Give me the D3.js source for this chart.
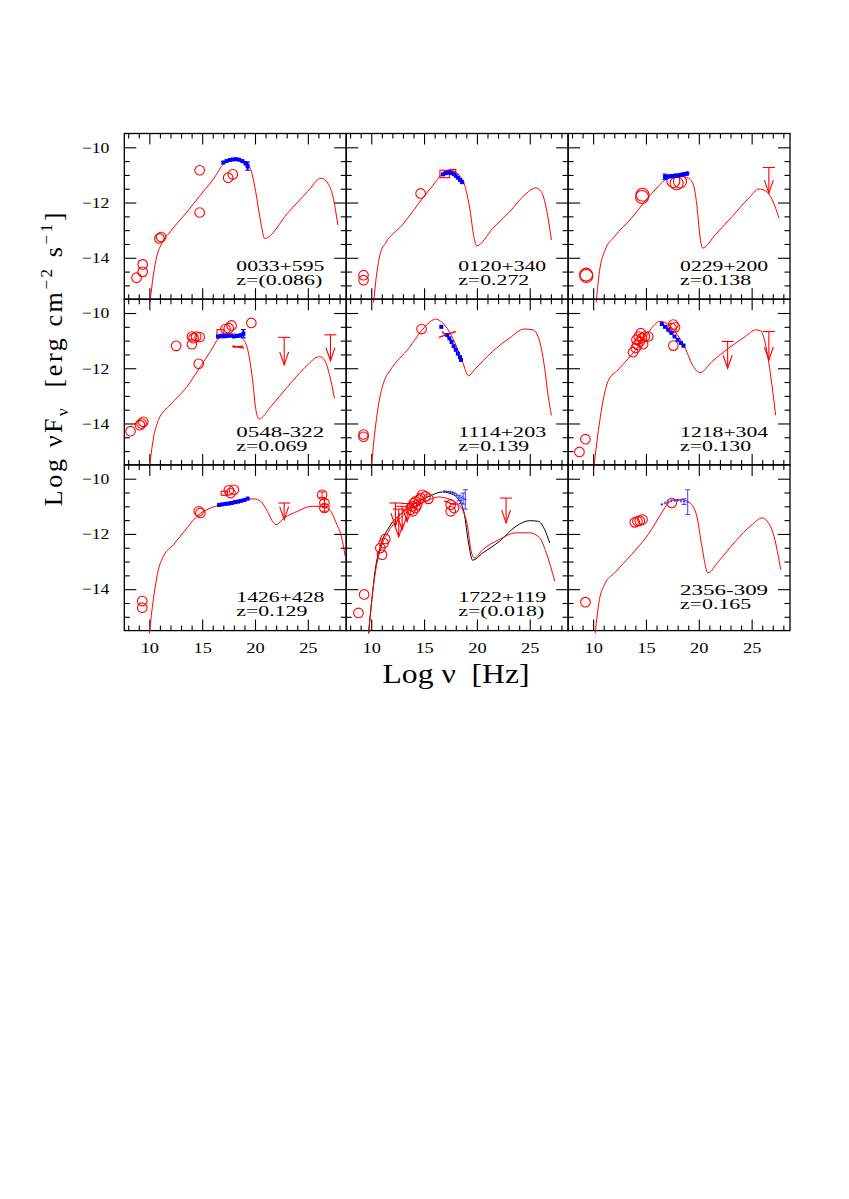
<!DOCTYPE html>
<html><head><meta charset="utf-8">
<script src="https://cdn.jsdelivr.net/npm/d3@7"></script>
<style>body{margin:0;background:#fff}svg{display:block}</style>
</head><body><svg id="c" width="849" height="1199"></svg>
<script>
// ---------------- DATA ----------------
const sourceNames = ["0033+595","0120+340","0229+200","0548-322","1114+203","1218+304","1426+428","1722+119","2356-309"];
const redshiftLabels = ["z=(0.086)","z=0.272","z=0.138","z=0.069","z=0.139","z=0.130","z=0.129","z=(0.018)","z=0.165"];
const xTickLabels = [10,15,20,25];
const yTickLabels = [-10,-12,-14];
const xMinorTicks = [8,9,11,12,13,14,16,17,18,19,21,22,23,24,26,27,28];
const yMinorTicks = [-10.5,-11,-11.5,-12.5,-13,-13.5,-14.5,-15];

// model curves [logNu, logNuFnu]
const p1Model = [[10.06,-15.62],[10.38,-14.63],[10.7,-13.96],[11.17,-13.48],[11.97,-13.06],[13.56,-12.34],[14.83,-11.73],[16.1,-11.13],[17.05,-10.59],[17.68,-10.47],[18.16,-10.41],[18.79,-10.47],[19.3,-10.6],[19.75,-11.0],[20.06,-11.6],[20.54,-12.7],[20.9,-13.3],[23.08,-12.39],[24.98,-11.6],[26.25,-11.12],[26.89,-11.3],[27.37,-11.78],[27.84,-12.81]];
const p2Model = [[10.22,-15.62],[10.54,-14.51],[10.86,-13.84],[11.33,-13.48],[12.92,-12.82],[14.83,-11.86],[16.1,-11.25],[16.73,-10.95],[17.37,-10.83],[17.84,-10.86],[18.32,-11.01],[18.79,-11.31],[19.27,-12.1],[19.75,-13.3],[19.97,-13.57],[21.49,-12.94],[23.08,-12.34],[24.67,-11.67],[25.56,-11.47],[26.1,-11.61],[26.57,-12.22],[27.05,-13.36]];
const p3Model = [[10.29,-15.62],[10.6,-14.49],[11.08,-13.77],[12.03,-13.23],[13.62,-12.57],[14.89,-11.96],[16.16,-11.42],[16.79,-11.18],[17.43,-11.06],[18.38,-11.06],[19.02,-11.12],[19.49,-11.36],[19.81,-12.08],[20.13,-13.29],[20.35,-13.65],[21.56,-13.17],[23.14,-12.51],[24.73,-11.84],[25.68,-11.51],[26.32,-11.58],[26.95,-11.9],[27.59,-12.57]];
const p4Model = [[10.0,-15.62],[10.38,-14.55],[10.86,-13.88],[11.97,-13.33],[13.56,-12.67],[14.83,-11.94],[15.78,-11.39],[16.57,-10.91],[17.37,-10.76],[18.16,-10.76],[18.79,-10.91],[19.27,-11.27],[19.75,-12.36],[20.06,-13.45],[20.38,-13.84],[21.49,-13.39],[23.08,-12.67],[24.67,-12.0],[26.1,-11.58],[26.57,-11.7],[27.05,-12.24],[27.52,-13.09]];
const p5Model = [[10.0,-15.62],[10.38,-14.18],[10.86,-12.97],[11.33,-12.36],[11.81,-12.06],[13.56,-11.27],[14.83,-10.61],[15.62,-10.3],[16.1,-10.22],[16.57,-10.3],[17.37,-10.67],[18.0,-11.15],[18.63,-11.76],[19.21,-12.27],[19.75,-12.06],[21.49,-11.39],[23.08,-10.91],[24.51,-10.58],[25.3,-10.61],[25.94,-11.03],[26.41,-12.0],[26.73,-12.97],[27.05,-13.7]];
const p6Model = [[10.06,-15.62],[10.44,-14.42],[10.92,-13.21],[11.4,-12.48],[12.35,-12.06],[13.62,-11.52],[14.89,-10.91],[15.68,-10.48],[16.32,-10.3],[16.79,-10.34],[17.75,-10.67],[18.7,-11.27],[19.49,-11.94],[20.13,-12.16],[21.24,-11.76],[22.83,-11.27],[24.41,-10.85],[25.37,-10.61],[25.84,-10.64],[26.32,-11.15],[26.79,-12.24],[27.27,-13.7]];
const p7Model = [[10.0,-15.6],[10.38,-14.37],[10.86,-13.29],[11.33,-12.81],[12.29,-12.39],[13.56,-11.78],[14.67,-11.3],[15.46,-11.12],[16.73,-10.94],[18.32,-10.78],[19.9,-10.73],[20.54,-10.82],[21.17,-11.18],[21.65,-11.54],[21.97,-11.66],[22.76,-11.42],[24.03,-11.18],[25.3,-11.0],[26.25,-11.0],[27.05,-11.12],[27.68,-11.6],[28.16,-12.08],[28.54,-12.81]];
const p8ModelRed = [[9.75,-15.6],[10.06,-14.37],[10.38,-13.41],[10.86,-12.57],[11.65,-11.9],[12.92,-11.36],[14.19,-11.0],[15.46,-10.76],[16.41,-10.66],[17.05,-10.7],[17.84,-10.82],[18.63,-11.12],[19.11,-11.72],[19.43,-12.57],[19.75,-12.87],[20.54,-12.57],[22.13,-12.2],[23.71,-11.96],[24.98,-11.96],[25.94,-12.14],[26.57,-12.69],[27.37,-13.71]];
const p8ModelBlack = [[9.75,-15.6],[10.06,-14.37],[10.38,-13.29],[10.86,-12.45],[11.65,-11.78],[12.92,-11.24],[14.19,-10.88],[15.46,-10.64],[16.73,-10.48],[17.37,-10.52],[18.16,-10.7],[18.79,-11.24],[19.21,-12.33],[19.59,-12.95],[20.54,-12.69],[22.13,-12.27],[23.71,-11.72],[24.98,-11.52],[25.78,-11.54],[26.41,-11.84],[26.89,-12.33]];
const p9Model = [[10.19,-15.6],[10.6,-14.37],[11.08,-13.83],[12.03,-13.41],[13.62,-12.75],[15.21,-12.02],[16.48,-11.24],[17.11,-10.88],[17.59,-10.76],[18.38,-10.76],[19.17,-10.88],[19.81,-11.36],[20.29,-12.45],[20.86,-13.41],[21.87,-12.99],[23.46,-12.27],[25.05,-11.66],[26.0,-11.42],[26.48,-11.54],[27.11,-12.08],[27.75,-13.29]];

// archival photometry (open circles) [logNu, logNuFnu]
const p1Circles = [[8.79,-14.72],[9.37,-14.24],[9.37,-14.51],[10.95,-13.3],[11.11,-13.25],[14.76,-10.83],[14.76,-12.36],[17.46,-11.1],[17.9,-10.98]];
const p2Circles = [[9.27,-14.63],[9.27,-14.81],[14.67,-11.67]];
const p3Circles = [[9.33,-14.61],[9.36,-14.66],[14.67,-11.72],[14.63,-11.8],[17.59,-11.22],[17.9,-11.3],[18.22,-11.24]];
const p4Circles = [[8.22,-14.28],[9.11,-14.06],[9.27,-14.0],[9.43,-13.94],[12.54,-11.19],[14.03,-10.85],[14.19,-10.91],[14.03,-11.13],[14.44,-10.85],[14.76,-10.87],[14.67,-11.84],[17.21,-10.58],[17.52,-10.55],[17.78,-10.45],[19.65,-10.36]];
const p5Circles = [[9.27,-14.4],[9.27,-14.48],[14.76,-10.58]];
const p6Circles = [[8.7,-15.03],[9.27,-14.57],[13.78,-11.42],[14.03,-11.27],[14.19,-11.15],[14.41,-11.03],[14.63,-10.91],[14.89,-10.85],[14.32,-10.85],[15.21,-10.85],[14.51,-10.73],[14.1,-10.97],[14.73,-11.13],[17.59,-10.42],[17.43,-10.55],[17.75,-10.52],[17.59,-11.18]];
const p7Circles = [[9.33,-14.43],[9.33,-14.67],[14.67,-11.18],[14.83,-11.24],[17.52,-10.42],[18.0,-10.4],[17.68,-10.52],[26.35,-10.58],[26.57,-10.88],[26.57,-11.06]];
const p8Circles = [[8.79,-14.86],[9.33,-14.19],[11.02,-12.75],[10.86,-12.51],[11.17,-12.33],[11.33,-12.18],[13.71,-11.12],[13.87,-11.0],[14.03,-10.88],[14.19,-10.82],[14.35,-10.94],[14.51,-10.76],[14.67,-10.7],[14.83,-10.58],[15.14,-10.64],[15.4,-10.73],[14.19,-11.06],[13.94,-11.18],[17.52,-10.94],[17.84,-11.06],[17.52,-11.18]];
const p9Circles = [[9.27,-14.47],[13.94,-11.58],[14.19,-11.54],[14.41,-11.52],[14.67,-11.48],[17.43,-10.88]];

// gamma-ray points with error bars [logNu, logNuFnu, err]
const p7Gamma = [[26.35,-10.58,0.1],[26.57,-10.88,0.12],[26.57,-11.06,0.12]];

// upper limits [logNu, barLevel, arrowTip]
const p3Limits = [[26.63,-10.73,-11.66]];
const p4Limits = [[22.76,-10.88,-11.88],[27.14,-10.79,-11.73]];
const p6Limits = [[22.73,-11.03,-12.0],[26.63,-10.67,-11.7]];
const p7Limits = [[22.76,-10.88,-11.48]];
const p8Limits = [[12.29,-10.88,-11.72],[12.6,-11.1,-12.1],[12.92,-11.0,-11.85],[13.4,-10.9,-11.55],[22.76,-10.7,-11.6]];

// optical/UV boxes [nu0, nu1, f0, f1]
const p2Boxes = [[16.5,17.4,-10.83,-11.1],[17.4,18.0,-10.8,-10.95]];
const p4Boxes = [[16.4,17.05,-10.6,-10.9]];
const p7Boxes = [[16.8,17.4,-10.45,-10.6]];
const p8Boxes = [];

// bow-tie segments [nu0, f0, nu1, f1]
const p4Bowties = [[17.84,-11.19,18.95,-11.27],[17.9,-11.24,18.9,-11.2]];
const p5Bowties = [[16.4,-10.88,18.0,-10.67],[16.7,-10.67,17.6,-11.0]];
const p8Bowties = [[16.9,-10.8,17.9,-10.95]];

// X-ray spectra [logNu, logNuFnu, err]
const p1Xray = [[17.0,-10.55,0.06],[17.3,-10.5,0.05],[17.6,-10.46,0.05],[17.9,-10.44,0.05],[18.2,-10.43,0.05],[18.5,-10.45,0.05],[18.8,-10.5,0.06],[19.1,-10.58,0.08],[19.3,-10.68,0.15]];
const p2Xray = [[16.8,-10.98,0.05],[17.0,-10.94,0.05],[17.2,-10.92,0.05],[17.4,-10.91,0.05],[17.6,-10.93,0.05],[17.8,-10.97,0.05],[18.0,-11.03,0.05],[18.2,-11.1,0.05],[18.4,-11.18,0.06],[18.6,-11.26,0.06]];
const p3Xray = [[16.8,-11.07,0.1],[17.0,-11.08,0.06],[17.2,-11.05,0.06],[17.4,-11.05,0.06],[17.6,-11.04,0.06],[17.8,-11.02,0.06],[18.0,-11.03,0.06],[18.2,-11.0,0.06],[18.4,-10.99,0.06],[18.6,-10.97,0.06],[18.9,-10.95,0.08]];
const p4Xray = [[16.5,-10.85,0.06],[16.8,-10.82,0.06],[17.1,-10.84,0.05],[17.4,-10.83,0.05],[17.7,-10.82,0.05],[18.0,-10.85,0.05],[18.3,-10.83,0.06],[18.6,-10.81,0.08],[18.9,-10.75,0.15]];
const p5Xray = [[16.63,-10.5,0.06],[17.2,-10.8,0.05],[17.4,-10.92,0.05],[17.6,-11.05,0.05],[17.8,-11.2,0.05],[18.0,-11.33,0.05],[18.2,-11.47,0.06],[18.4,-11.6,0.06],[18.5,-11.7,0.07]];
const p6Xray = [[16.5,-10.4,0.05],[16.8,-10.5,0.05],[17.1,-10.6,0.05],[17.4,-10.72,0.05],[17.7,-10.85,0.05],[18.0,-10.97,0.05],[18.3,-11.08,0.06],[18.55,-11.18,0.07]];
const p7Xray = [[16.6,-10.95,0.05],[16.9,-10.93,0.05],[17.2,-10.91,0.05],[17.5,-10.9,0.05],[17.8,-10.88,0.05],[18.1,-10.85,0.05],[18.4,-10.83,0.05],[18.7,-10.8,0.05],[19.0,-10.77,0.05],[19.3,-10.72,0.06]];
const p8Xray = [[16.9,-10.45,0.04],[17.1,-10.46,0.04],[17.3,-10.47,0.04],[17.5,-10.48,0.05],[17.7,-10.5,0.05],[17.9,-10.53,0.06],[18.1,-10.6,0.08],[18.3,-10.7,0.1],[18.5,-10.78,0.12],[18.7,-10.72,0.2],[18.9,-10.75,0.35]];
const p9Xray = [[16.5,-10.93,0.05],[16.8,-10.88,0.05],[17.1,-10.84,0.05],[17.4,-10.8,0.05],[17.7,-10.78,0.05],[18.0,-10.79,0.06],[18.3,-10.8,0.07],[18.6,-10.83,0.1],[18.95,-10.85,0.45]];

// ---------------- TABLE FOR DRAWING ----------------
const panels = [
  {models:[p1Model], circles:p1Circles, xray:p1Xray},
  {models:[p2Model], circles:p2Circles, xray:p2Xray, boxes:p2Boxes},
  {models:[p3Model], circles:p3Circles, xray:p3Xray, limits:p3Limits},
  {models:[p4Model], circles:p4Circles, xray:p4Xray, boxes:p4Boxes, bowties:p4Bowties, limits:p4Limits},
  {models:[p5Model], circles:p5Circles, xray:p5Xray, bowties:p5Bowties},
  {models:[p6Model], circles:p6Circles, xray:p6Xray, limits:p6Limits},
  {models:[p7Model], circles:p7Circles, xray:p7Xray, boxes:p7Boxes, limits:p7Limits, gamma:p7Gamma},
  {models:[p8ModelBlack, p8ModelRed], circles:p8Circles, xray:p8Xray, boxes:p8Boxes, bowties:p8Bowties, limits:p8Limits},
  {models:[p9Model], circles:p9Circles, xray:p9Xray}
];

// ---------------- LAYOUT ----------------
const L = 124.3, T = 133.5, W = 221.9, H = 165.7;
const svg = d3.select("#c");
const x = d3.scaleLinear().domain([7.63, 28.63]).range([0, W]);
const y = d3.scaleLinear().domain([-15.5, -9.5]).range([H, 0]);
const tickFont = "'Liberation Serif', 'Times New Roman', serif";
const line = d3.line().x(d => x(d[0])).y(d => y(d[1])).curve(d3.curveMonotoneX);

panels.forEach((p, i) => {
  const col = i % 3, row = Math.floor(i / 3);
  const g = svg.append("g").attr("transform", `translate(${L + col * W},${T + row * H})`);

  // ticks (inward on all four sides)
  const axes = [
    [d3.axisBottom(x), `translate(0,${H})`, 11, 5, xTickLabels, xMinorTicks],
    [d3.axisTop(x), `translate(0,0)`, 11, 5, xTickLabels, xMinorTicks],
    [d3.axisLeft(y), `translate(0,0)`, 12, 5.5, yTickLabels, yMinorTicks],
    [d3.axisRight(y), `translate(${W},0)`, 12, 5.5, yTickLabels, yMinorTicks]
  ];
  axes.forEach(([ax, tr, major, minor, mj, mn], k) => {
    const showLabels = (k === 0 && row === 2) || (k === 2 && col === 0);
    const gm = g.append("g").attr("transform", tr)
      .call(ax.tickValues(mj).tickSize(-major).tickPadding(k === 0 ? 11.5 : 15)
        .tickFormat(showLabels ? d3.format("d") : ""));
    gm.select(".domain").remove();
    gm.selectAll("line").attr("stroke", "#000").attr("stroke-width", 1.1);
    gm.selectAll("text").attr("font-family", tickFont).attr("font-size", 15).attr("fill", "#000")
      .attr("textLength", (d) => (String(d).length) * 9.2).attr("lengthAdjust", "spacingAndGlyphs");
    const ax2 = (k === 0 ? d3.axisBottom(x) : k === 1 ? d3.axisTop(x) : k === 2 ? d3.axisLeft(y) : d3.axisRight(y));
    const gn = g.append("g").attr("transform", tr)
      .call(ax2.tickValues(mn).tickSize(-minor).tickFormat(""));
    gn.select(".domain").remove();
    gn.selectAll("line").attr("stroke", "#000").attr("stroke-width", 1.1);
  });

  // frame
  g.append("rect").attr("x", 0).attr("y", 0).attr("width", W).attr("height", H)
    .attr("fill", "none").attr("stroke", "#000").attr("stroke-width", 1.3);

  // model curves
  p.models.forEach((m, k) => {
    const black = p.models.length > 1 && k === 0;
    g.append("path").datum(m).attr("d", line).attr("fill", "none")
      .attr("stroke", black ? "#000" : "#ff0000").attr("stroke-width", 1);
  });

  // boxes
  (p.boxes || []).forEach(b => {
    g.append("rect").attr("x", x(b[0])).attr("y", y(b[2])).attr("width", x(b[1]) - x(b[0]))
      .attr("height", y(b[3]) - y(b[2])).attr("fill", "none").attr("stroke", "#ff0000").attr("stroke-width", 1.1);
  });
  // bowties
  (p.bowties || []).forEach(b => {
    g.append("line").attr("x1", x(b[0])).attr("y1", y(b[1])).attr("x2", x(b[2])).attr("y2", y(b[3]))
      .attr("stroke", "#ff0000").attr("stroke-width", 1.4);
  });

  // circles
  const r = i === 2 ? 6.5 : 4.8;
  g.selectAll("circle.ph").data(p.circles).join("circle").attr("class", "ph")
    .attr("cx", d => x(d[0])).attr("cy", d => y(d[1])).attr("r", r)
    .attr("fill", "none").attr("stroke", "#ff0000").attr("stroke-width", 1.1);

  // gamma error bars
  (p.gamma || []).forEach(d => {
    g.append("line").attr("x1", x(d[0])).attr("x2", x(d[0])).attr("y1", y(d[1] + d[2])).attr("y2", y(d[1] - d[2]))
      .attr("stroke", "#ff0000");
    [d[1] + d[2], d[1] - d[2]].forEach(v => g.append("line").attr("x1", x(d[0]) - 3).attr("x2", x(d[0]) + 3)
      .attr("y1", y(v)).attr("y2", y(v)).attr("stroke", "#ff0000"));
  });

  // upper limits
  (p.limits || []).forEach(d => {
    const cx = x(d[0]), top = y(d[1]), tip = y(d[2]);
    g.append("line").attr("x1", cx - 6).attr("x2", cx + 6).attr("y1", top).attr("y2", top).attr("stroke", "#ff0000").attr("stroke-width", 1.1);
    g.append("line").attr("x1", cx).attr("x2", cx).attr("y1", top).attr("y2", tip).attr("stroke", "#ff0000").attr("stroke-width", 1.1);
    g.append("path").attr("d", `M${cx - 4.5},${tip - 13}L${cx},${tip}L${cx + 4.5},${tip - 13}`)
      .attr("fill", "none").attr("stroke", "#ff0000").attr("stroke-width", 1.1);
  });

  // X-ray spectra
  const thin = i >= 7;
  const blue = thin ? "#3a3aff" : "#0000ff";
  const sw = thin ? 1 : 2;
  p.xray.forEach(d => {
    const cx = x(d[0]), cy = y(d[1]);
    g.append("line").attr("x1", x(d[0] - 0.13)).attr("x2", x(d[0] + 0.13)).attr("y1", cy).attr("y2", cy)
      .attr("stroke", blue).attr("stroke-width", sw);
    g.append("line").attr("x1", cx).attr("x2", cx).attr("y1", y(d[1] + d[2])).attr("y2", y(d[1] - d[2]))
      .attr("stroke", blue).attr("stroke-width", sw);
    if (d[2] >= 0.1) {
      [d[1] + d[2], d[1] - d[2]].forEach(v => g.append("line").attr("x1", cx - 2.5).attr("x2", cx + 2.5)
        .attr("y1", y(v)).attr("y2", y(v)).attr("stroke", blue).attr("stroke-width", 1));
    }
    if (!thin) g.append("rect").attr("x", cx - 2).attr("y", cy - 2).attr("width", 4).attr("height", 4).attr("fill", blue);
  });

  // labels
  const ny = i === 8 ? 130 : 137.5;
  g.append("text").attr("x", 112).attr("y", ny).text(sourceNames[i])
    .attr("font-family", tickFont).attr("font-size", 15).attr("fill", "#000")
    .attr("textLength", 88).attr("lengthAdjust", "spacingAndGlyphs");
  g.append("text").attr("x", 112).attr("y", ny + 14).text(redshiftLabels[i])
    .attr("font-family", tickFont).attr("font-size", 15).attr("fill", "#000")
    .attr("textLength", redshiftLabels[i].length === 9 ? 86 : 71).attr("lengthAdjust", "spacingAndGlyphs");
});

// axis titles
svg.append("text").attr("x", 456).attr("y", 683).attr("text-anchor", "middle")
  .attr("font-family", tickFont).attr("font-size", 27).attr("fill", "#000")
  .attr("textLength", 147).attr("lengthAdjust", "spacingAndGlyphs")
  .text("Log \u03bd\u00a0\u00a0[Hz]");

const yt = svg.append("text").attr("transform", "translate(62,358) rotate(-90)").attr("text-anchor", "middle")
  .attr("font-family", tickFont).attr("font-size", 26).attr("fill", "#000").attr("letter-spacing", 2.6);
yt.append("tspan").text("Log \u03bdF");
yt.append("tspan").attr("font-size", 17).attr("dy", 6).text("\u03bd");
yt.append("tspan").attr("dy", -6).text("\u00a0\u00a0[erg cm");
yt.append("tspan").attr("font-size", 17).attr("dy", -10).text("\u22122");
yt.append("tspan").attr("dy", 10).text(" s");
yt.append("tspan").attr("font-size", 17).attr("dy", -10).text("\u22121");
yt.append("tspan").attr("dy", 10).text("]");
</script>
</body></html>
